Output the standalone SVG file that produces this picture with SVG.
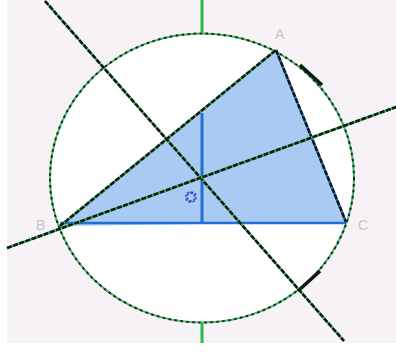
<svg xmlns="http://www.w3.org/2000/svg" width="396" height="352" viewBox="0 0 396 352">
<style>
.lbl{font-family:"Liberation Sans",Arial,sans-serif;font-size:14px;fill:#c4c4c4}
.dash{fill:none;stroke:#111a11;stroke-width:2.6;stroke-dasharray:5 1.5}
.green{fill:none;stroke:#3cb860;stroke-width:2.6}
</style>
<rect x="0" y="0" width="396" height="352" fill="#ffffff"/>
<rect x="7" y="0" width="389" height="343" fill="#f6f2f6"/>
<g id="circle">
<ellipse cx="202" cy="178" rx="152" ry="144.5" fill="#ffffff"/>
<ellipse cx="202" cy="178" rx="152" ry="144.5" fill="none" stroke="#3cb860" stroke-width="2"/>
<ellipse cx="202" cy="178" rx="152" ry="144.5" fill="none" stroke="#222" stroke-width="2" stroke-dasharray="2.5 3.5"/>
</g>
<g id="triangle">
<polygon points="276,50 60,226 346,222" fill="#a9caf3"/>
<line x1="60" y1="223" x2="346" y2="223" stroke="#1f6fd6" stroke-width="2.5"/>
<line x1="202" y1="113" x2="202" y2="223" stroke="#1f6fd6" stroke-width="3"/>
<line x1="60" y1="226" x2="276" y2="50" class="green"/>
<line x1="60" y1="226" x2="276" y2="50" class="dash"/>
<line x1="276" y1="50" x2="346" y2="222" stroke="#1f6fd6" stroke-width="2.4"/>
<line x1="276" y1="50" x2="346" y2="222" class="dash"/>
</g>
<g id="connectors">
<line x1="202" y1="0" x2="202" y2="33" stroke="#2cb84c" stroke-width="3"/>
<line x1="202" y1="322" x2="202" y2="343" stroke="#2cb84c" stroke-width="3"/>
<line x1="45" y1="1" x2="344" y2="341" class="green"/>
<line x1="45" y1="1" x2="344" y2="341" class="dash"/>
<line x1="7" y1="248" x2="396" y2="107" class="green"/>
<line x1="7" y1="248" x2="396" y2="107" class="dash"/>
<line x1="300" y1="65" x2="322" y2="85" stroke="#111a11" stroke-width="3.5"/>
<line x1="298" y1="291" x2="320" y2="271" stroke="#111a11" stroke-width="3.5"/>
</g>
<g id="labels">
<text class="lbl" x="275" y="39">A</text>
<text class="lbl" x="36" y="230">B</text>
<text class="lbl" x="358" y="230">C</text>
<text x="185" y="202" font-family="Liberation Sans,Arial,sans-serif" font-size="15" fill="none" stroke="#2a48c0" stroke-width="1.3" stroke-dasharray="2.5 1.5">O</text>
</g>
</svg>
